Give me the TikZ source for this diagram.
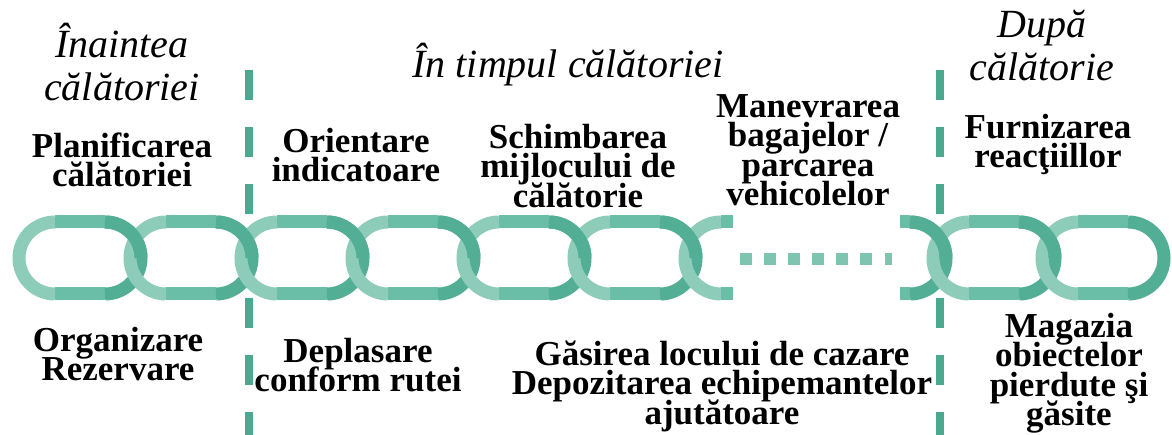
\documentclass[tikz,border=0pt]{standalone}
\usepackage{fontspec}
\setmainfont{Liberation Serif}
\definecolor{linkmain}{HTML}{6ABDA6}
\definecolor{linklight}{HTML}{8ECCBA}
\definecolor{linkdark}{HTML}{52AF96}
\definecolor{sepcol}{HTML}{4AA98F}
\definecolor{dotcol}{HTML}{7FC4B1}
\tikzset{
  lbl/.style={font={\fontsize{35}{29.5}\selectfont\bfseries\lineskiplimit=-100pt}, align=center, anchor=north, inner sep=0pt},
  phase/.style={font={\fontsize{40}{43}\selectfont\itshape\lineskiplimit=-100pt}, align=center, anchor=north, inner sep=0pt},
  sepline/.style={draw=sepcol, line width=8pt, dash pattern=on 30pt off 27pt},
  linkline/.style={line width=13pt, line cap=butt},
  chaindot/.style={fill=dotcol, draw=none}
}
\newcommand\bstrut{\rule{0pt}{26pt}}
\newcommand\istrut{\rule{0pt}{38pt}}
\begin{document}
\begin{tikzpicture}[x=1pt,y=1pt]
\fill[white] (0,0) rectangle (1172,435);
\useasboundingbox (0,0) rectangle (1172,435);

% phase separators
\coordinate (s1top) at (249,365);
\coordinate (s1bot) at (249,0);
\coordinate (s2top) at (940,365);
\coordinate (s2bot) at (940,0);
\draw[sepline] (s1top) -- (s1bot);
\draw[sepline] (s2top) -- (s2bot);

% chain, left group
\foreach \c in {80,191,302,413,524,635} {
  \draw[linkline,linkmain] (\c-25,213) -- (\c+25,213) (\c-25,141) -- (\c+25,141);
  \draw[linkline,linkdark] (\c+25,141) arc[start angle=-90,end angle=90,radius=36];
  \draw[linkline,linklight] (\c-25,213) arc[start angle=90,end angle=270,radius=36];
}
% partial link after the last full one
\draw[linkline,linklight] (721,213) arc[start angle=90,end angle=270,radius=36];
\draw[linkline,linkmain] (721,213) -- (733,213) (721,141) -- (733,141);
% dots
\foreach \d in {740,764,788,812,836,860} {
  \fill[chaindot] (\d,170) rectangle (\d+12,182);
}
\fill[chaindot] (885,170) rectangle (892,182);
% partial link before the right group
\draw[linkline,linkmain] (900,213) -- (910,213) (900,141) -- (910,141);
\draw[linkline,linkdark] (910,141) arc[start angle=-90,end angle=90,radius=36];
% right group
\foreach \c in {994,1103} {
  \draw[linkline,linkmain] (\c-25,213) -- (\c+25,213) (\c-25,141) -- (\c+25,141);
  \draw[linkline,linkdark] (\c+25,141) arc[start angle=-90,end angle=90,radius=36];
  \draw[linkline,linklight] (\c-25,213) arc[start angle=90,end angle=270,radius=36];
}
% interlocking: upper right quarters over the next link
\foreach \c in {80,191,302,413,524,635,885,994} {
  \draw[linkline,linkdark] (\c+61,177) arc[start angle=0,end angle=90,radius=36];
}

% phase titles
\node[phase] (before) at (122,416) {\istrut Înaintea\\călătoriei};
\node[phase] (during) at (568,396) {\istrut În timpul călătoriei};
\node[phase] (after) at (1042,436) {\istrut După\\călătorie};

% upper labels
\node[lbl] (plan) at (122,304) {\bstrut Planificarea\\călătoriei};
\node[lbl] (orient) at (356,309) {\bstrut Orientare\\indicatoare};
\node[lbl] (change) at (578,313) {\bstrut Schimbarea\\mijlocului de\\călătorie};
\node[lbl] (luggage) at (808,344) {\bstrut Manevrarea\\bagajelor /\\parcarea\\vehicolelor};
\node[lbl] (feedback) at (1048,323) {\bstrut Furnizarea\\reacţiillor};

% lower labels
\node[lbl] (book) at (118,110) {\bstrut Organizare\\Rezervare};
\node[lbl] (route) at (358,99) {\bstrut Deplasare\\conform rutei};
\node[lbl] (lodging) at (722,96) {\bstrut Găsirea locului de cazare\\Depozitarea echipemantelor\\ajutătoare};
\node[lbl] (lost) at (1069,124) {\bstrut Magazia\\obiectelor\\pierdute şi\\găsite};
\end{tikzpicture}
\end{document}
